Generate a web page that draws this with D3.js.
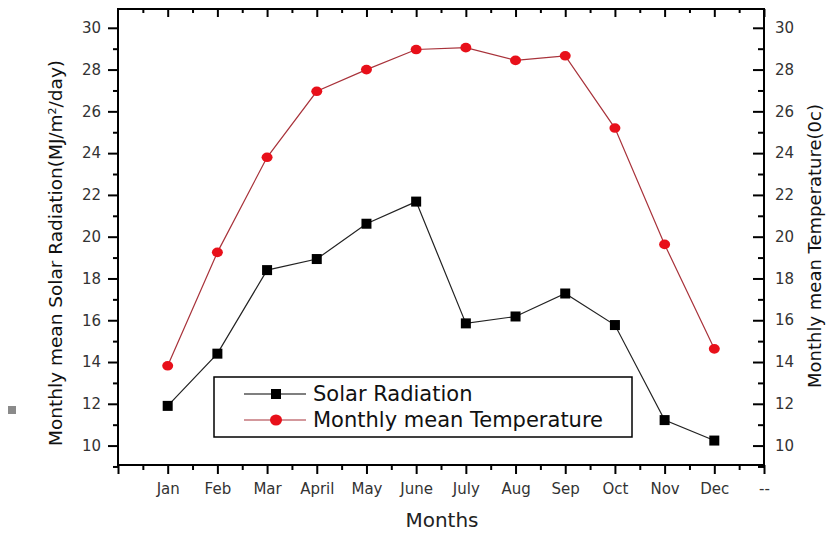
<!DOCTYPE html>
<html>
<head>
<meta charset="utf-8">
<script src="https://cdn.jsdelivr.net/npm/d3@7"></script>
<style>
  body { margin: 0; background: #fff; }
  svg text { font-family: "DejaVu Sans", "Liberation Sans", Arial, sans-serif; }
</style>
</head>
<body>
<div id="chart"></div>
<script>
// month labels (last one is an empty "--" slot)
const months = ["Jan", "Feb", "Mar", "April", "May", "June", "July", "Aug", "Sep", "Oct", "Nov", "Dec", "--"];
const solar = [11.9, 14.4, 18.4, 18.93, 20.62, 21.68, 15.85, 16.18, 17.28, 15.77, 11.22, 10.24];
const temperature = [13.82, 19.25, 23.8, 26.96, 28.0, 28.96, 29.05, 28.44, 28.66, 25.2, 19.63, 14.63];
const yTicks = [10, 12, 14, 16, 18, 20, 22, 24, 26, 28, 30];

const w = 827, h = 533;
const pLeft = 118, pRight = 764, pTop = 9, pBottom = 465;

const svg = d3.select("#chart").append("svg")
  .attr("width", w)
  .attr("height", h);

const x = d3.scaleLinear().domain([0, 13]).range([pLeft, pRight]);
const y = d3.scaleLinear().domain([9.07, 30.9]).range([pBottom, pTop]);

const monthIdx = d3.range(1, 14);
const halfIdx = d3.range(0, 13).map(d => d + 0.5);
const minorY = d3.range(9, 31, 2);

// bottom axis: major ticks + labels
const xAxis = d3.axisBottom(x)
  .tickValues(monthIdx)
  .tickFormat(d => months[d - 1])
  .tickSize(9).tickPadding(9);
const gx = svg.append("g").attr("transform", "translate(0," + pBottom + ")").call(xAxis);
gx.select(".domain").remove();
gx.selectAll("line").attr("stroke", "#000").attr("stroke-width", 2);
gx.selectAll("text").attr("font-size", 15).attr("fill", "#333");

// bottom minor ticks
svg.append("g").attr("transform", "translate(0," + pBottom + ")")
  .call(d3.axisBottom(x).tickValues(halfIdx.concat([0])).tickSize(5).tickFormat(""))
  .call(g => g.select(".domain").remove())
  .selectAll("line").attr("stroke", "#000").attr("stroke-width", 2)
  .attr("y2", (d) => d === 0 ? 9 : 5);

// top axis: ticks inward
svg.append("g").attr("transform", "translate(0," + pTop + ")")
  .call(d3.axisBottom(x).tickValues(monthIdx).tickSize(8).tickFormat(""))
  .call(g => g.select(".domain").remove())
  .selectAll("line").attr("stroke", "#000").attr("stroke-width", 2);
svg.append("g").attr("transform", "translate(0," + pTop + ")")
  .call(d3.axisBottom(x).tickValues(halfIdx).tickSize(4).tickFormat(""))
  .call(g => g.select(".domain").remove())
  .selectAll("line").attr("stroke", "#000").attr("stroke-width", 2);

// left axis: outward
const gy = svg.append("g").attr("transform", "translate(" + pLeft + ",0)")
  .call(d3.axisLeft(y).tickValues(yTicks).tickSize(10).tickPadding(7));
gy.select(".domain").remove();
gy.selectAll("line").attr("stroke", "#000").attr("stroke-width", 2);
gy.selectAll("text").attr("font-size", 15).attr("fill", "#333");
svg.append("g").attr("transform", "translate(" + pLeft + ",0)")
  .call(d3.axisLeft(y).tickValues(minorY).tickSize(5).tickFormat(""))
  .call(g => g.select(".domain").remove())
  .selectAll("line").attr("stroke", "#000").attr("stroke-width", 2);

// right axis: ticks inward, labels outside
const gr = svg.append("g").attr("transform", "translate(" + pRight + ",0)")
  .call(d3.axisLeft(y).tickValues(yTicks).tickSize(11).tickFormat(""));
gr.select(".domain").remove();
gr.selectAll("line").attr("stroke", "#000").attr("stroke-width", 2);
svg.append("g").attr("transform", "translate(" + pRight + ",0)")
  .call(d3.axisLeft(y).tickValues(minorY).tickSize(6).tickFormat(""))
  .call(g => g.select(".domain").remove())
  .selectAll("line").attr("stroke", "#000").attr("stroke-width", 2);
svg.append("g").selectAll("text")
  .data(yTicks)
  .join("text")
  .attr("x", pRight + 11)
  .attr("y", d => y(d))
  .attr("dy", "0.35em")
  .attr("font-size", 15)
  .attr("fill", "#333")
  .text(d => d);

// frame
svg.append("rect")
  .attr("x", pLeft).attr("y", pTop)
  .attr("width", pRight - pLeft).attr("height", pBottom - pTop)
  .attr("fill", "none").attr("stroke", "#000").attr("stroke-width", 2);

// lines
const line = d3.line().x((d, i) => x(i + 1)).y(d => y(d));

svg.append("path").datum(temperature)
  .attr("d", line).attr("fill", "none")
  .attr("stroke", "#a8323a").attr("stroke-width", 1.2);
svg.append("path").datum(solar)
  .attr("d", line).attr("fill", "none")
  .attr("stroke", "#222").attr("stroke-width", 1.2);

svg.selectAll("ellipse.temp")
  .data(temperature)
  .join("ellipse")
  .attr("class", "temp")
  .attr("cx", (d, i) => x(i + 1))
  .attr("cy", d => y(d))
  .attr("rx", 5.5).attr("ry", 4.8)
  .attr("fill", "#e8101a");

svg.selectAll("rect.solar")
  .data(solar)
  .join("rect")
  .attr("class", "solar")
  .attr("x", (d, i) => x(i + 1) - 5)
  .attr("y", d => y(d) - 5)
  .attr("width", 10).attr("height", 10)
  .attr("fill", "#000");

// legend
const lg = svg.append("g");
lg.append("rect")
  .attr("x", 214).attr("y", 377)
  .attr("width", 418).attr("height", 60)
  .attr("fill", "#fff").attr("stroke", "#000").attr("stroke-width", 1.5);
lg.append("line").attr("x1", 244).attr("x2", 306).attr("y1", 394).attr("y2", 394)
  .attr("stroke", "#000").attr("stroke-width", 1.2);
lg.append("rect").attr("x", 271).attr("y", 389).attr("width", 10).attr("height", 10).attr("fill", "#000");
lg.append("line").attr("x1", 244).attr("x2", 306).attr("y1", 420).attr("y2", 420)
  .attr("stroke", "#a8323a").attr("stroke-width", 1.2);
lg.append("ellipse").attr("cx", 276).attr("cy", 420).attr("rx", 6).attr("ry", 5.5).attr("fill", "#e8101a");
lg.append("text").attr("x", 313).attr("y", 394).attr("dy", "0.35em")
  .attr("font-size", 21).attr("fill", "#111").text("Solar Radiation");
lg.append("text").attr("x", 313).attr("y", 420).attr("dy", "0.35em")
  .attr("font-size", 21).attr("fill", "#111").text("Monthly mean Temperature");

// axis titles
svg.append("text")
  .attr("transform", "translate(62,253) rotate(-90)")
  .attr("text-anchor", "middle")
  .attr("font-size", 18.5).attr("fill", "#111")
  .html("Monthly mean Solar Radiation(MJ/m<tspan baseline-shift='super' font-size='11'>2</tspan>/day)");

svg.append("text")
  .attr("transform", "translate(821,246) rotate(-90)")
  .attr("text-anchor", "middle")
  .attr("font-size", 18).attr("fill", "#111")
  .text("Monthly mean Temperature(0c)");

svg.append("text")
  .attr("x", 442).attr("y", 527)
  .attr("text-anchor", "middle")
  .attr("font-size", 20).attr("fill", "#222")
  .text("Months");

// stray grey square at the left edge of the original figure
svg.append("rect").attr("x", 8).attr("y", 406).attr("width", 8).attr("height", 8).attr("fill", "#8a8a8a");
</script>
</body>
</html>
